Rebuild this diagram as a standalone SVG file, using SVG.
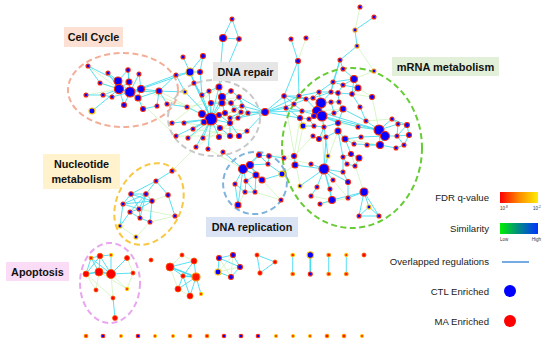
<svg xmlns="http://www.w3.org/2000/svg" width="550" height="345" viewBox="0 0 550 345">
<defs>
<linearGradient id="gFdr" x1="0" x2="1" y1="0" y2="0"><stop offset="0" stop-color="#ff0000"/><stop offset="0.5" stop-color="#ff8a00"/><stop offset="1" stop-color="#ffee00"/></linearGradient>
<linearGradient id="gSim" x1="0" x2="1" y1="0" y2="0"><stop offset="0" stop-color="#00ee00"/><stop offset="0.5" stop-color="#008888"/><stop offset="1" stop-color="#0033ff"/></linearGradient>
</defs>
<style>
.e{fill:none;stroke:#45dcf0;stroke-width:0.9}
.et{fill:none;stroke:#45dcf0;stroke-width:1.6}
.eg{fill:none;stroke:#bdf0a4;stroke-width:0.6}
.el{fill:none;stroke-width:2;stroke-dasharray:6 3.5}
.b{fill:#0a00ff;stroke:#ff2a00;stroke-width:1.1}
.by{fill:#0a00ff;stroke:#ffc000;stroke-width:1.1}
.r{fill:#ff0000;stroke:#ff5a00;stroke-width:0.8}
.ry{fill:#ff2000;stroke:#ffc800;stroke-width:1.1}
.ro{fill:#ff1800;stroke:#ff9000;stroke-width:1.1}
.lb{font-family:"Liberation Sans",Arial,sans-serif;font-weight:bold;font-size:10.8px;fill:#111;text-anchor:middle}
.lg{font-family:"Liberation Sans",Arial,sans-serif;font-size:9.6px;fill:#222;text-anchor:end}
.tiny{font-family:"Liberation Sans",Arial,sans-serif;font-size:4.5px;fill:#333}
.sup{font-size:3.2px}
</style>
<rect width="550" height="345" fill="#ffffff"/>

<g id="connectors">
<path class="eg" d="M211,119L248,113M202,114L241,112M211,103L242,106M187,107L239,97M193,129L239,136M176,136L230,136M184,123L247,131M172,123L219,87M204,122L231,91M188,138L234,110M203,138L248,113M196,147L238,118M322,116L324,169M338,131L324,169M282,174L295,165M294,156L269,156M300,118L294,156M284,158L311,164M317,111L343,109M354,79L374,71M352,94L372,97M358,88L372,97M372,97L379,130M366,121L392,119M338,123L379,130M345,139L380,145M311,196L332,200M320,204L348,198M351,154L364,192M286,108L300,186M333,180L348,198M313,136L294,156M303,126L295,165M262,180L281,200M255,192L281,200M208,149L243,169M245,192L238,205M120,226L136,237M150,222L136,237M172,171L196,147M175,216L150,222M168,195L152,201M175,216L139,209M86,274L96,290M111,274L113,298M111,274L127,289M133,273L127,289M127,258L133,273M99,272L96,290M99,272L127,289M86,274L113,298M182,255L170,267M178,289L190,296M170,267L178,289M182,255L194,261M219,258L231,277M233,255L218,272M233,255L231,277M240,267L218,272M360,7L355,30M357,46L374,71M306,38L298,61M100,83L130,92M88,66L119,89M86,95L119,89M130,92L176,136M159,91L211,119M141,89L187,107"/>
<path class="e" d="M88,66L118,81M88,66L100,83M108,73L118,81M108,73L119,89M100,83L119,89M128,70L118,81M128,70L129,82M128,70L130,92M139,74L130,92M139,74L141,89M118,81L119,89M118,81L130,92M129,82L130,92M129,82L119,89M119,89L130,92M130,92L141,89M130,92L138,98M141,89L138,98M141,89L159,91M138,98L159,91M119,89L103,95M103,95L112,97M112,97L130,92M86,95L103,95M130,92L124,105M119,89L124,105M138,98L143,109M159,91L157,106M159,91L167,104M143,109L157,106M130,92L159,91M119,89L92,111M159,91L185,92M167,104L187,107M159,91L176,75M141,89L190,72M130,92L176,75
M183,57L190,72M203,56L190,72M190,72L200,72M203,56L200,72M190,72L176,75M190,72L194,83M200,72L202,95M176,75L185,92M190,72L211,119
M232,19L223,38M232,19L239,39M223,38L239,39M223,38L219,87M239,39L219,87
M291,39L298,61M298,61L284,96M298,61L299,96
M374,17L355,30M355,30L357,46M357,46L340,60M340,60L331,92M340,60L343,69
M211,119L185,92M211,119L202,95M211,119L209,91M211,119L211,103M211,119L187,107M211,119L202,114M211,119L204,122M211,119L219,115M211,119L172,123M211,119L184,123M211,119L193,129M211,119L176,136M211,119L188,138M211,119L203,138M211,119L196,147M211,119L208,149M211,119L220,128M211,119L219,137M211,119L222,103M211,119L222,97M211,119L219,87M211,119L194,83M211,119L225,113M211,119L230,123
M219,87L222,97M231,91L222,97M222,97L222,103M222,103L231,103M231,103L239,97M239,97L242,106M222,103L225,113M225,113L230,118M230,118L238,118M238,118L241,112M234,110L242,106M219,115L225,113M219,115L230,123M230,123L230,136M230,123L239,136M220,128L230,136M239,136L247,131M248,113L238,118M248,113L265,112M242,106L265,112M241,112L265,112M239,97L265,112M238,118L265,112M247,131L265,112M231,91L239,97M209,91L219,87M202,95L209,91M211,103L222,103M194,83L202,95M202,114L211,103M234,110L231,103M231,103L241,112M222,97L231,103M230,118L241,112M239,97L248,113
M265,112L284,96M265,112L286,108M265,112L299,96M265,112L294,104M265,112L302,111M265,112L300,118
M343,69L354,79M354,79L333,82M354,79L343,85M354,79L358,88M333,82L343,85M343,85L358,88M358,88L352,94M338,93L352,94M331,92L338,93M333,82L331,92M319,92L331,92M343,85L338,93M340,60L333,82M354,79L352,94M333,82L319,92
M284,96L299,96M284,96L286,108M284,96L294,104M299,96L306,99M306,99L313,98M313,98L321,103M321,103L317,111M317,111L322,116M321,103L322,116M322,116L314,116M314,116L317,111M294,104L302,111M286,108L302,111M302,111L317,111M302,111L300,118M300,118L309,119M309,119L322,116M321,103L331,102M331,102L339,102M339,102L338,93M319,92L321,103M331,92L321,103M331,102L334,113M334,113L322,116M334,113L343,109M343,109L339,102M313,98L319,92M299,96L319,92M306,99L317,111M294,104L306,99M284,96L306,99M313,98L331,92M286,108L300,118
M322,116L338,123M343,109L338,123M338,123L338,131M338,123L324,127M324,127L314,126M314,126L303,126M303,126L300,118M324,127L319,139M313,136L319,139M319,139L326,137M326,137L338,131M338,131L345,139M345,139L354,144M345,139L361,137M322,116L324,127M309,119L314,126
M366,121L379,130M358,127L379,130M361,137L385,136M354,144L380,145M367,145L380,145M379,130L385,136M385,136L380,145M379,130L392,119M379,130L398,124M392,119L398,124M398,124L407,125M407,125L409,135M409,135L397,136M397,136L385,136M409,135L404,145M404,145L396,148M396,148L380,145M397,136L404,145M407,125L397,136M398,124L397,136M392,119L407,125M343,109L366,121M360,107L366,121M352,94L360,107M379,130L380,145M317,111L379,130M322,116L379,130M302,111L358,127
M345,139L351,154M351,154L343,157M351,154L359,158M343,157L347,164M359,158L355,166M347,164L355,166M343,157L343,172M324,169L328,156M324,169L311,164M324,169L295,165M295,165L294,156M324,169L333,180M324,169L317,187M324,169L330,189M324,169L348,182M348,182L348,198M343,172L348,182M324,169L332,200M332,200L320,204M332,200L364,192M364,192L369,207M364,192L359,216M364,192L379,216M369,207L359,216M369,207L379,216M359,216L379,216M348,198L364,192M330,189L332,200M317,187L311,196M300,186L324,169M328,156L324,127M343,157L338,131M326,137L324,169M343,172L324,169
M243,169L250,165M243,169L256,175M250,165L256,175M243,169L246,181M243,169L235,184M250,165L259,155M259,155L269,156M259,155L268,164M269,156L268,164M268,164L282,174M250,165L262,180M256,175L262,180M246,181L245,192M246,181L255,192M245,192L255,192M235,184L238,205M243,169L238,205M256,175L255,192M223,152L243,169M269,156L284,158M262,180L282,174M250,165L268,164M246,181L256,175M235,184L245,192M243,169L259,155
M172,171L156,181M156,181L146,194M156,181L131,194M131,194L146,194M131,194L152,201M146,194L152,201M131,194L123,204M123,204L139,209M146,194L139,209M152,201L139,209M139,209L130,212M130,212L140,218M139,209L140,218M146,194L140,218M140,218L150,222M152,201L150,222M168,195L175,216M156,181L168,195M123,204L120,226M130,212L120,226M131,194L139,209M123,204L146,194M146,194L130,212M152,201L123,204
M91,258L86,274M91,258L99,272M100,256L86,274M100,256L99,272M100,256L111,274M91,258L100,256M100,256L111,255M111,255L111,274M127,258L111,274M111,274L133,273M113,298L115,318M91,258L111,274
M194,261L170,267M170,267L183,276M194,261L183,276M183,276L178,289M196,277L178,289M196,277L190,296M183,276L190,296M196,277L201,294M194,261L196,277
M219,258L233,255M233,255L240,267M240,267L231,277M231,277L218,272M218,272L219,258M219,258L240,267
M257,255L275,262L260,273Z
M292.7,255V274M328.7,255V274M346.3,255V274"/>
<path class="et" d="M86,274L99,272L111,274M170,267L196,277M183,276L196,277M310.3,255V274M130,92L119,89M321,103L322,116M379,130L385,136M211,119L219,115"/>
</g>

<g id="ellipses">
<ellipse class="el" cx="123" cy="90" rx="55" ry="37" stroke="#f4ae98"/>
<ellipse class="el" cx="214" cy="118" rx="46" ry="38" stroke="#c8c8c8"/>
<ellipse class="el" cx="352" cy="148" rx="70" ry="80" stroke="#66cc33"/>
<ellipse class="el" cx="149" cy="204" rx="32" ry="43" stroke="#f7c842" transform="rotate(28 149 204)"/>
<ellipse class="el" cx="255" cy="183" rx="32" ry="31" stroke="#7fb2dc" transform="rotate(-20 255 183)"/>
<ellipse class="el" cx="110" cy="283" rx="30" ry="40" stroke="#e9a6ee"/>
</g>

<g id="cluster-cell-cycle">
<circle class="b" cx="88" cy="66" r="2"/><circle class="b" cx="108" cy="73" r="2"/><circle class="b" cx="100" cy="83" r="2"/><circle class="b" cx="128" cy="70" r="2.2"/><circle class="b" cx="139" cy="74" r="2"/><circle class="b" cx="118" cy="81" r="4"/><circle class="b" cx="129" cy="82" r="3"/><circle class="b" cx="119" cy="89" r="4.6"/><circle class="b" cx="130" cy="92" r="5"/><circle class="b" cx="141" cy="89" r="3.5"/><circle class="b" cx="138" cy="98" r="3"/><circle class="b" cx="159" cy="91" r="3"/><circle class="b" cx="86" cy="95" r="2"/><circle class="b" cx="103" cy="95" r="2"/><circle class="b" cx="112" cy="97" r="2"/><circle class="b" cx="124" cy="105" r="2.5"/><circle class="b" cx="143" cy="109" r="2.5"/><circle class="b" cx="157" cy="106" r="2"/><circle class="b" cx="167" cy="104" r="2"/><circle class="by" cx="92" cy="111" r="3"/>
</g>
<g id="cluster-top">
<circle class="b" cx="183" cy="57" r="2"/><circle class="b" cx="203" cy="56" r="2.5"/><circle class="by" cx="190" cy="72" r="4"/><circle class="b" cx="200" cy="72" r="2.5"/><circle class="b" cx="176" cy="75" r="2"/>
<circle class="b" cx="232" cy="19" r="2"/><circle class="b" cx="223" cy="38" r="3.5"/><circle class="b" cx="239" cy="39" r="2.2"/>
<circle class="b" cx="291" cy="39" r="2"/><circle class="b" cx="306" cy="38" r="2"/><circle class="b" cx="298" cy="61" r="2.5"/>
<circle class="b" cx="360" cy="7" r="2"/><circle class="b" cx="374" cy="17" r="2"/><circle class="ro" cx="355" cy="30" r="2" style="fill:#0a00ff"/><circle class="ro" cx="357" cy="46" r="2" style="fill:#0a00ff"/><circle class="b" cx="340" cy="60" r="2"/><circle class="ro" cx="374" cy="71" r="2" style="fill:#0a00ff"/>
</g>
<g id="cluster-dna-repair">
<circle class="by" cx="185" cy="92" r="2"/><circle class="b" cx="194" cy="83" r="2"/><circle class="b" cx="202" cy="95" r="2"/><circle class="b" cx="209" cy="91" r="2"/><circle class="b" cx="219" cy="87" r="3"/><circle class="b" cx="231" cy="91" r="2.2"/><circle class="b" cx="222" cy="97" r="3.5"/><circle class="b" cx="211" cy="103" r="2.5"/><circle class="b" cx="222" cy="103" r="3"/><circle class="b" cx="231" cy="103" r="2.2"/><circle class="b" cx="239" cy="97" r="2.2"/><circle class="b" cx="234" cy="110" r="2"/><circle class="b" cx="242" cy="106" r="2"/><circle class="b" cx="241" cy="112" r="2"/><circle class="b" cx="187" cy="107" r="2"/><circle class="b" cx="202" cy="114" r="3.5"/><circle class="b" cx="211" cy="119" r="6"/><circle class="b" cx="204" cy="122" r="2.8"/><circle class="b" cx="219" cy="115" r="2.5"/><circle class="b" cx="225" cy="113" r="2.5"/><circle class="b" cx="230" cy="118" r="2"/><circle class="b" cx="238" cy="118" r="2"/><circle class="b" cx="230" cy="123" r="2.5"/><circle class="b" cx="248" cy="113" r="2"/><circle class="b" cx="172" cy="123" r="2"/><circle class="b" cx="184" cy="123" r="2"/><circle class="b" cx="193" cy="129" r="2"/><circle class="b" cx="220" cy="128" r="2.5"/><circle class="b" cx="230" cy="136" r="2.5"/><circle class="b" cx="239" cy="136" r="2.5"/><circle class="b" cx="247" cy="131" r="2"/><circle class="b" cx="176" cy="136" r="2"/><circle class="b" cx="188" cy="138" r="2"/><circle class="b" cx="203" cy="138" r="2"/><circle class="b" cx="219" cy="137" r="2.5"/><circle class="b" cx="196" cy="147" r="2"/><circle class="b" cx="208" cy="149" r="2"/><circle class="b" cx="223" cy="152" r="2"/><circle class="b" cx="265" cy="112" r="3.5"/>
</g>
<g id="cluster-mrna-metabolism">
<circle class="b" cx="343" cy="69" r="2"/><circle class="b" cx="354" cy="79" r="3.5"/><circle class="b" cx="333" cy="82" r="2"/><circle class="b" cx="343" cy="85" r="2"/><circle class="b" cx="358" cy="88" r="3"/><circle class="b" cx="319" cy="92" r="2"/><circle class="b" cx="331" cy="92" r="2"/><circle class="b" cx="338" cy="93" r="2.2"/><circle class="b" cx="352" cy="94" r="2.2"/><circle class="b" cx="284" cy="96" r="2.2"/><circle class="b" cx="299" cy="96" r="2"/><circle class="b" cx="306" cy="99" r="2"/><circle class="b" cx="313" cy="98" r="2"/><circle class="b" cx="321" cy="103" r="5"/><circle class="b" cx="331" cy="102" r="2"/><circle class="b" cx="339" cy="102" r="2"/><circle class="b" cx="372" cy="97" r="2.5"/><circle class="b" cx="360" cy="107" r="2"/><circle class="b" cx="286" cy="108" r="2"/><circle class="b" cx="294" cy="104" r="2"/><circle class="b" cx="302" cy="111" r="2"/><circle class="b" cx="317" cy="111" r="4.5"/><circle class="b" cx="322" cy="116" r="5"/><circle class="b" cx="314" cy="116" r="2.5"/><circle class="b" cx="334" cy="113" r="2"/><circle class="b" cx="343" cy="109" r="3"/><circle class="b" cx="300" cy="118" r="2.5"/><circle class="b" cx="309" cy="119" r="2"/><circle class="b" cx="338" cy="123" r="2.5"/><circle class="b" cx="366" cy="121" r="2"/><circle class="by" cx="303" cy="126" r="3"/><circle class="b" cx="314" cy="126" r="2"/><circle class="b" cx="324" cy="127" r="2"/><circle class="b" cx="358" cy="127" r="2"/><circle class="b" cx="338" cy="131" r="3"/><circle class="b" cx="313" cy="136" r="2"/><circle class="b" cx="319" cy="139" r="2.5"/><circle class="b" cx="326" cy="137" r="2"/><circle class="b" cx="345" cy="139" r="3"/><circle class="b" cx="361" cy="137" r="2"/><circle class="b" cx="354" cy="144" r="2"/><circle class="b" cx="367" cy="145" r="2"/><circle class="b" cx="379" cy="130" r="5"/><circle class="b" cx="385" cy="136" r="4.5"/><circle class="b" cx="380" cy="145" r="3.5"/><circle class="b" cx="392" cy="119" r="2"/><circle class="b" cx="398" cy="124" r="2"/><circle class="b" cx="407" cy="125" r="2.5"/><circle class="b" cx="409" cy="135" r="2.5"/><circle class="b" cx="397" cy="136" r="2"/><circle class="b" cx="404" cy="145" r="2"/><circle class="b" cx="396" cy="148" r="2"/><circle class="b" cx="351" cy="154" r="2.5"/><circle class="b" cx="343" cy="157" r="2"/><circle class="b" cx="359" cy="158" r="3"/><circle class="b" cx="347" cy="164" r="2"/><circle class="b" cx="355" cy="166" r="2"/><circle class="b" cx="294" cy="156" r="2.5"/><circle class="b" cx="295" cy="165" r="3"/><circle class="b" cx="311" cy="164" r="2"/><circle class="by" cx="328" cy="156" r="2"/><circle class="b" cx="324" cy="169" r="5"/><circle class="b" cx="343" cy="172" r="2"/><circle class="b" cx="333" cy="180" r="2"/><circle class="b" cx="317" cy="187" r="2"/><circle class="b" cx="330" cy="189" r="2"/><circle class="b" cx="348" cy="182" r="2.5"/><circle class="b" cx="348" cy="198" r="2"/><circle class="b" cx="364" cy="192" r="4"/><circle class="by" cx="300" cy="186" r="2"/><circle class="by" cx="282" cy="174" r="3"/><circle class="b" cx="311" cy="196" r="2"/><circle class="by" cx="369" cy="207" r="2"/><circle class="b" cx="359" cy="216" r="2"/><circle class="b" cx="379" cy="216" r="2"/><circle class="b" cx="284" cy="158" r="2"/><circle class="b" cx="320" cy="204" r="2"/><circle class="b" cx="332" cy="200" r="3.5"/>
</g>
<g id="cluster-dna-replication">
<circle class="b" cx="259" cy="155" r="2.5"/><circle class="b" cx="269" cy="156" r="2.2"/><circle class="b" cx="243" cy="169" r="4.5"/><circle class="b" cx="250" cy="165" r="3.5"/><circle class="b" cx="256" cy="175" r="3"/><circle class="b" cx="246" cy="181" r="2"/><circle class="b" cx="235" cy="184" r="2"/><circle class="b" cx="262" cy="180" r="3"/><circle class="b" cx="245" cy="192" r="2"/><circle class="b" cx="255" cy="192" r="2"/><circle class="b" cx="238" cy="205" r="3"/><circle class="b" cx="281" cy="200" r="2"/><circle class="b" cx="268" cy="164" r="2"/>
</g>
<g id="cluster-nucleotide-metabolism">
<circle class="b" cx="172" cy="171" r="2"/><circle class="b" cx="156" cy="181" r="2"/><circle class="b" cx="131" cy="194" r="2.2"/><circle class="b" cx="146" cy="194" r="2.2"/><circle class="b" cx="168" cy="195" r="2.2"/><circle class="b" cx="152" cy="201" r="2.2"/><circle class="b" cx="123" cy="204" r="2"/><circle class="b" cx="139" cy="209" r="2"/><circle class="b" cx="130" cy="212" r="2"/><circle class="b" cx="140" cy="218" r="2"/><circle class="b" cx="150" cy="222" r="2"/><circle class="b" cx="175" cy="216" r="2"/><circle class="by" cx="120" cy="226" r="2"/><circle class="by" cx="136" cy="237" r="2"/>
</g>
<g id="cluster-apoptosis">
<circle class="ro" cx="91" cy="258" r="1.8"/><circle class="r" cx="100" cy="256" r="2.8"/><circle class="ry" cx="111" cy="255" r="1.6"/><circle class="r" cx="127" cy="258" r="2.5"/><circle class="r" cx="86" cy="274" r="3"/><circle class="r" cx="99" cy="272" r="4"/><circle class="r" cx="111" cy="274" r="4.5"/><circle class="r" cx="133" cy="273" r="2"/><circle class="r" cx="96" cy="290" r="2"/><circle class="ry" cx="127" cy="289" r="1.6"/><circle class="r" cx="113" cy="298" r="2"/><circle class="r" cx="115" cy="318" r="2.5"/><circle class="r" cx="151" cy="260" r="2"/>
</g>
<g id="cluster-small">
<circle class="r" cx="182" cy="255" r="2"/><circle class="r" cx="194" cy="261" r="3"/><circle class="r" cx="170" cy="267" r="4"/><circle class="r" cx="183" cy="276" r="2.2"/><circle class="ro" cx="196" cy="277" r="4"/><circle class="r" cx="178" cy="289" r="3"/><circle class="r" cx="190" cy="296" r="3"/><circle class="ry" cx="201" cy="294" r="1.6"/>
<circle class="b" cx="219" cy="258" r="2.5"/><circle class="b" cx="233" cy="255" r="2.5"/><circle class="b" cx="240" cy="267" r="2.5"/><circle class="by" cx="218" cy="272" r="3"/><circle class="b" cx="231" cy="277" r="2.5"/>
<circle class="r" cx="257" cy="255" r="2"/><circle class="r" cx="275" cy="262" r="2"/><circle class="r" cx="260" cy="273" r="2.2"/>
<circle class="ry" cx="292.7" cy="255" r="1.8"/><circle class="ro" cx="292.7" cy="274" r="1.8"/><circle class="by" cx="310.3" cy="255" r="3.2"/><circle class="b" cx="310.3" cy="274" r="2"/><circle class="ro" cx="328.7" cy="255" r="1.8"/><circle class="ro" cx="328.7" cy="274" r="1.8"/><circle class="ry" cx="346.3" cy="255" r="1.6"/><circle class="ro" cx="346.3" cy="274" r="1.8"/><circle class="r" cx="364" cy="255" r="2"/>
</g>
<g id="singletons">
<circle class="ro" cx="86" cy="336" r="1.8"/><circle class="b" cx="103" cy="336" r="1.8"/><circle class="ry" cx="121" cy="336" r="1.5"/><circle class="b" cx="138" cy="336" r="1.8"/><circle class="ry" cx="155" cy="336" r="1.5"/><circle class="ry" cx="173" cy="336" r="1.5"/><circle class="ro" cx="190" cy="336" r="1.8"/><circle class="ro" cx="207" cy="336" r="1.8"/><circle class="b" cx="224" cy="336" r="1.8"/><circle class="b" cx="241" cy="336" r="1.8"/><circle class="b" cx="258" cy="336" r="1.8"/><circle class="ry" cx="276" cy="336" r="1.5"/><circle class="ry" cx="293" cy="336" r="1.5"/><circle class="ry" cx="310" cy="336" r="1.5"/><circle class="ro" cx="327" cy="336" r="1.8"/><circle class="ro" cx="344" cy="336" r="1.8"/><circle class="ry" cx="362" cy="336" r="1.5"/>
</g>

<g id="label-cell-cycle"><rect x="64" y="27" width="59" height="20" fill="#fbe0d3"/><text class="lb" x="93.5" y="41">Cell Cycle</text></g>
<g id="label-dna-repair"><rect x="213" y="62" width="65" height="19" fill="#e6e6e6"/><text class="lb" x="245.5" y="75.5">DNA repair</text></g>
<g id="label-mrna"><rect x="392" y="57" width="107" height="19" fill="#e2f0d9"/><text class="lb" x="445.5" y="70.5" style="font-size:11px">mRNA metabolism</text></g>
<g id="label-nucleotide"><rect x="43" y="154" width="77" height="35" fill="#fff2cc"/><text class="lb" x="81.5" y="167.5">Nucleotide</text><text class="lb" x="81.5" y="183">metabolism</text></g>
<g id="label-dna-replication"><rect x="206" y="217" width="92" height="20" fill="#dae3f3"/><text class="lb" x="252" y="231">DNA replication</text></g>
<g id="label-apoptosis"><rect x="6" y="262" width="63" height="19" fill="#fadcf6"/><text class="lb" x="37.5" y="275.5">Apoptosis</text></g>

<g id="legend">
<text class="lg" x="489" y="201">FDR q-value</text>
<rect x="500" y="192" width="38" height="11" fill="url(#gFdr)"/>
<text class="tiny" x="500" y="210">10<tspan class="sup" dy="-1.6">-8</tspan></text><text class="tiny" x="533" y="210">10<tspan class="sup" dy="-1.6">-2</tspan></text>
<text class="lg" x="489" y="232">Similarity</text>
<rect x="500" y="223" width="38" height="11" fill="url(#gSim)"/>
<text class="tiny" x="500" y="240.5">Low</text><text class="tiny" x="541" y="240.5" text-anchor="end">High</text>
<text class="lg" x="489" y="264.5">Overlapped regulations</text>
<line x1="502" y1="262" x2="529" y2="262" stroke="#3a86d8" stroke-width="1.4"/>
<text class="lg" x="489" y="294.5">CTL Enriched</text>
<circle cx="510" cy="291" r="6" fill="#0000ff"/>
<text class="lg" x="489" y="324.5">MA Enriched</text>
<circle cx="510" cy="321" r="6" fill="#ff0000"/>
</g>
</svg>
